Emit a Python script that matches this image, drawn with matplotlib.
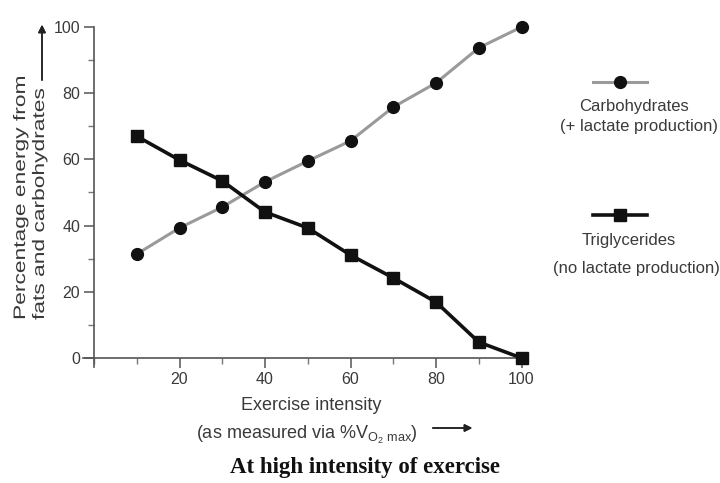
import matplotlib.pyplot as plt
from matplotlib.lines import Line2D
from matplotlib.ticker import MultipleLocator
from matplotlib.textpath import TextPath
from matplotlib.patches import PathPatch
from matplotlib.font_manager import FontProperties
from matplotlib.transforms import Affine2D, IdentityTransform

plt.rcParams['font.family'] = ['Liberation Sans', 'DejaVu Sans']

intensity = [10, 20, 30, 40, 50, 60, 70, 80, 90, 100]
carbohydrates = [31.4, 39.3, 45.6, 53.2, 59.5, 65.6, 75.8, 83.1, 93.7, 100]
triglycerides = [67, 59.8, 53.5, 44.1, 39.3, 31.1, 24.2, 16.9, 4.8, 0]

ylabel_lines = ['Percentage energy from', 'fats and carbohydrates']

txt = '#3a3a3a'
grey = '#9a9a9a'
W, H, DPI = 720, 483, 100

fig = plt.figure(figsize=(W / DPI, H / DPI), dpi=DPI)
# data x=0 at px 94, x=100 at px 521.5 ; y=0 at px 358, y=100 at px 27
xs = (521.5 - 94) / 100
ys = (358 - 27) / 100
x0, x1 = -2.5, 101
y0, y1 = -2.7, 100
ax = fig.add_axes([(94 + x0 * xs) / W, (H - 358 + y0 * ys) / H,
                   (x1 - x0) * xs / W, (y1 - y0) * ys / H])

ax.plot(intensity, carbohydrates, color=grey, lw=2.2, marker='o', ms=8.5,
        mfc='#111111', mec='#111111', clip_on=False, zorder=3)
ax.plot(intensity, triglycerides, color='#111111', lw=2.6, marker='s', ms=8.5,
        mfc='#111111', mec='#111111', clip_on=False, zorder=4)

ax.set_xlim(x0, x1)
ax.set_ylim(y0, y1)
ax.spines['top'].set_visible(False)
ax.spines['right'].set_visible(False)
ax.spines['left'].set_position(('data', 0))
ax.spines['bottom'].set_position(('data', 0))
for s in ('left', 'bottom'):
    ax.spines[s].set_color('#555555')
    ax.spines[s].set_linewidth(1.2)

ax.set_xticks([20, 40, 60, 80, 100])
ax.xaxis.set_minor_locator(MultipleLocator(10))
ax.set_yticks([0, 20, 40, 60, 80, 100])
ax.yaxis.set_minor_locator(MultipleLocator(10))
ax.tick_params(which='major', direction='out', length=7, width=1.1,
               color='#555555', labelsize=11.5, labelcolor=txt, pad=3)
ax.tick_params(which='minor', direction='out', length=4.5, width=1.0, color='#777777')

# y label: vertically stretched text (as in the scanned figure)
fp = FontProperties(family='Liberation Sans')
paths = [TextPath((0, 0), s, size=12, prop=fp) for s in ylabel_lines]
ptpx = DPI / 72
stretch = 243 / (paths[0].get_extents().x1 * ptpx)
for tp, base_x in zip(paths, (25, 44)):
    tr = (Affine2D().scale(ptpx * stretch, ptpx).rotate_deg(90)
          .translate(base_x, H - 320))
    fig.add_artist(PathPatch(tr.transform_path(tp), transform=IdentityTransform(),
                             facecolor=txt, edgecolor='none', lw=0))
top2 = 320 - paths[1].get_extents().x1 * ptpx * stretch
fig.add_artist(plt.annotate('', xy=(42 / W, 1 - 22 / H), xytext=(42 / W, 1 - (top2 - 6) / H),
                            xycoords='figure fraction', textcoords='figure fraction',
                            arrowprops=dict(arrowstyle='-|>', color='#222222', lw=1.1,
                                            mutation_scale=11)))

# x label with arrow
fig.text(311 / W, 1 - 406 / H, 'Exercise intensity', ha='center', va='center',
         fontsize=13, color=txt)
fig.text(196 / W, 1 - 435 / H, r'(as measured via %V$_{\mathregular{O_2\ max}}$)',
         ha='left', va='center', fontsize=13, color=txt)
fig.add_artist(plt.annotate('', xy=(475 / W, 1 - 428 / H), xytext=(430 / W, 1 - 428 / H),
                            xycoords='figure fraction', textcoords='figure fraction',
                            arrowprops=dict(arrowstyle='-|>', color='#222222', lw=1.1,
                                            mutation_scale=11)))

fig.text(365 / W, 1 - 468 / H, 'At high intensity of exercise', ha='center', va='center',
         fontsize=16.5, fontweight='bold', family='Liberation Serif', color='#111111')

# legend
fig.add_artist(Line2D([593 / W, 647 / W], [1 - 82 / H, 1 - 82 / H], color=grey, lw=2.2,
                      transform=fig.transFigure))
fig.add_artist(Line2D([620 / W], [1 - 82 / H], marker='o', ms=8.5, color='#111111',
                      transform=fig.transFigure))
fig.text(634 / W, 1 - 106 / H, 'Carbohydrates', ha='center', va='center',
         fontsize=12, color=txt)
fig.text(639 / W, 1 - 127 / H, '(+ lactate production)', ha='center', va='center',
         fontsize=12, color=txt)

fig.add_artist(Line2D([593 / W, 647 / W], [1 - 215 / H, 1 - 215 / H], color='#111111', lw=2.6,
                      transform=fig.transFigure))
fig.add_artist(Line2D([620 / W], [1 - 215 / H], marker='s', ms=8.5, color='#111111',
                      transform=fig.transFigure))
fig.text(629 / W, 1 - 240 / H, 'Triglycerides', ha='center', va='center',
         fontsize=12, color=txt)
fig.text(636 / W, 1 - 268 / H, '(no lactate production)', ha='center', va='center',
         fontsize=12, color=txt)

fig.savefig('out.png', dpi=DPI)
